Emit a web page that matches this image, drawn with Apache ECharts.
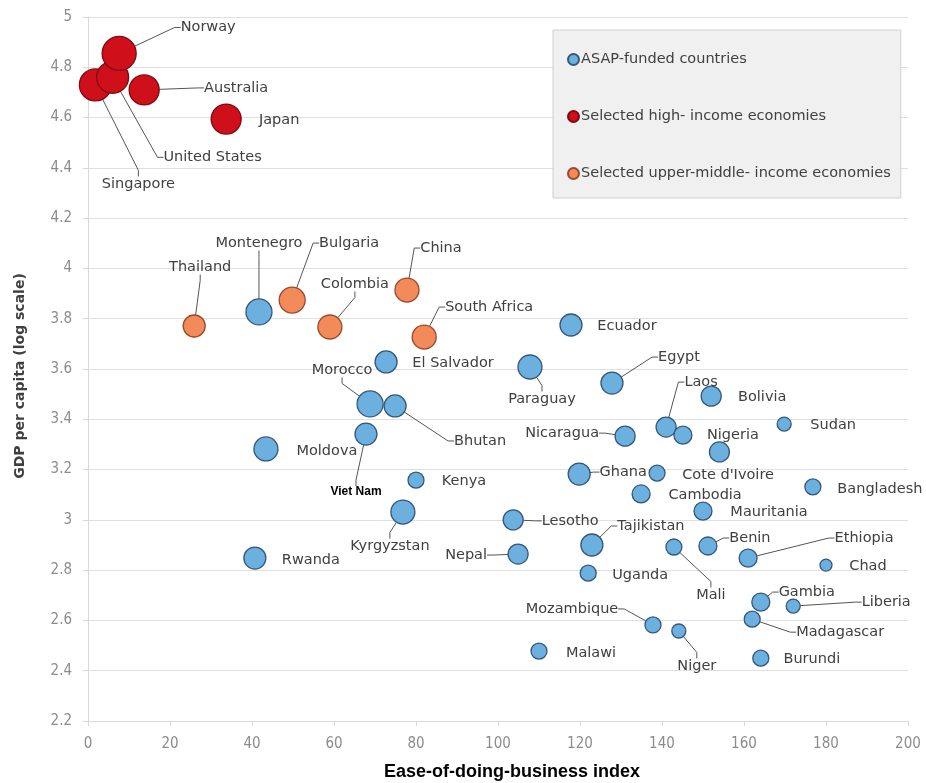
<!DOCTYPE html>
<html>
<head>
<meta charset="utf-8">
<script src="https://cdn.jsdelivr.net/npm/echarts@6/dist/echarts.min.js"></script>
<style>html,body{margin:0;padding:0;background:#fff}#c{width:926px;height:783px}</style>
</head>
<body>
<div id="c"></div>
<script>
// ---- data ----
const seriesNames = ['ASAP-funded countries', 'Selected high- income economies', 'Selected upper-middle- income economies'];

const asapCountries = ['Montenegro','El Salvador','Morocco','Bhutan','Viet Nam','Moldova','Kenya','Kyrgyzstan','Rwanda','Lesotho','Nepal','Ecuador','Paraguay','Egypt','Laos','Nigeria','','Bolivia','Sudan','Nicaragua','Ghana',"Cote d'Ivoire",'Cambodia','Bangladesh','Mauritania','Tajikistan','Mali','Benin','Ethiopia','Chad','Uganda','Gambia','Liberia','Madagascar','Mozambique','Niger','Malawi','Burundi'];
const asapEase = [41.7,72.7,68.8,74.9,67.8,43.4,80,76.8,40.7,103.7,104.9,117.8,107.8,127.8,141,145.1,154,152,169.8,131,119.8,138.8,134.9,176.8,150,122.9,142.9,151.2,161,180,122,164.1,172,162,137.8,144.1,110,164.1];
const asapGdp = [3.827,3.628,3.461,3.453,3.341,3.282,3.158,3.031,2.848,3.0,2.864,3.775,3.608,3.544,3.369,3.337,3.27,3.492,3.381,3.333,3.182,3.186,3.103,3.131,3.035,2.9,2.892,2.896,2.848,2.82,2.788,2.673,2.657,2.605,2.582,2.558,2.478,2.45];
const asapBubble = [13,11,13,11,11,12,8,12,11,10,10,11,12,11,10,9,10,10,7,10,11,8,9,8,9,11,8,9,9,6,8,9,7,8,8,7,8,8];

const highCountries = ['Singapore','United States','Norway','Australia','Japan'];
const highEase = [1.8,6,7.6,13.7,33.7];
const highGdp = [4.73,4.76,4.855,4.71,4.594];
const highBubble = [16,16,17,15,15];

const umCountries = ['Thailand','Bulgaria','Colombia','China','South Africa'];
const umEase = [25.9,49.8,59,77.8,82];
const umGdp = [3.771,3.874,3.767,3.914,3.727];
const umBubble = [11,13,12,12,12];

const xTicks = {min: 0, max: 200, interval: 20};
const yTicks = {min: 2.2, max: 5, interval: 0.2};

// ---- label layout (pixel offsets of label centre from bubble centre, leader flag) ----
const labelPlace = {
  'Norway':[89,-26,1],'United States':[100,80,1],'Singapore':[43,99,1],'Australia':[92,-2,1],'Japan':[53,1,0],
  'Thailand':[6,-59,1],'Bulgaria':[57,-57,1],'Colombia':[25,-43,1],'China':[34,-42,1],'South Africa':[65,-30,1],
  'Montenegro':[0,-69,1],'El Salvador':[67,1,0],'Morocco':[-28,-34,1],'Bhutan':[85,35,1],'Viet Nam':[-10,58,1],
  'Moldova':[61,2,0],'Kenya':[48,1,0],'Kyrgyzstan':[-13,34,1],'Rwanda':[56,2,0],'Lesotho':[57,1,1],'Nepal':[-52,1,1],
  'Ecuador':[56,1,0],'Paraguay':[12,32,1],'Egypt':[67,-26,1],'Laos':[35,-45,1],'Nigeria':[50,0,0],'':[0,0,0],
  'Bolivia':[51,1,0],'Sudan':[49,1,0],'Nicaragua':[-63,-3,1],'Ghana':[44,-2,1],"Cote d'Ivoire":[71,2,0],
  'Cambodia':[64,1,0],'Bangladesh':[67,2,0],'Mauritania':[66,1,0],'Tajikistan':[59,-19,1],'Mali':[37,48,1],
  'Benin':[42,-8,1],'Ethiopia':[116,-20,1],'Chad':[42,1,0],'Uganda':[52,2,0],'Gambia':[46,-10,1],'Liberia':[93,-4,1],
  'Madagascar':[88,13,1],'Mozambique':[-81,-16,1],'Niger':[18,35,1],'Malawi':[52,2,0],'Burundi':[51,1,0]
};

function build(names, xs, ys, sizes) {
  return names.map((n, i) => {
    const p = labelPlace[n] || [0,0,0];
    const item = {name: n, value: [xs[i], ys[i], sizes[i]], labelLine: {show: !!p[2]}};
    if (n === 'Viet Nam') item.label = {color: '#000', fontFamily: 'Liberation Sans, Arial', fontWeight: 'bold', fontSize: 12};
    return item;
  });
}

const colors = [
  {fill: '#6cb0e0', border: '#35577a'},
  {fill: '#cf0f1a', border: '#7d0a10'},
  {fill: '#f28a5a', border: '#9a4a2a'}
];
const labelFont = 'DejaVu Sans';
const tickFont = 'DejaVu Sans Condensed, DejaVu Sans';

function mkSeries(idx, names, xs, ys, sizes) {
  return {
    name: seriesNames[idx],
    type: 'scatter',
    data: build(names, xs, ys, sizes),
    symbolSize: v => v[2] * 2,
    itemStyle: {color: colors[idx].fill, borderColor: colors[idx].border, borderWidth: 1.3, opacity: 1},
    label: {
      show: true, position: 'inside', formatter: p => p.name,
      color: '#404040', fontSize: 14.5, fontFamily: labelFont, align: 'center', verticalAlign: 'middle'
    },
    labelLine: {lineStyle: {color: '#555', width: 1}, length2: 6},
    labelLayout: p => {
      const o = labelPlace[p.text] || [0,0,0];
      return {dx: o[0], dy: o[1]};
    },
    emphasis: {disabled: true}
  };
}

const chart = echarts.init(document.getElementById('c'), null, {renderer: 'canvas'});
chart.setOption({
  animation: false,
  backgroundColor: '#fff',
  grid: {left: 88, right: 18, top: 17, bottom: 62, containLabel: false, outerBoundsMode: 'none'},
  legend: {
    orient: 'vertical', left: 553, top: 30,
    padding: [22, 10, 17, 14], itemGap: 42,
    backgroundColor: '#f0f0f0', borderColor: '#cfcfcf', borderWidth: 1,
    icon: 'circle', itemWidth: 11, itemHeight: 11, itemSymbolKeepAspect: true,
    textStyle: {color: '#404040', fontSize: 14.5, fontFamily: labelFont, padding: [0,0,0,-3]},
    data: [seriesNames[0], seriesNames[1], seriesNames[2]]
  },
  xAxis: {
    type: 'value', min: xTicks.min, max: xTicks.max, interval: xTicks.interval,
    name: 'Ease-of-doing-business index', nameLocation: 'middle', nameGap: 42,
    nameTextStyle: {color: '#000', fontSize: 18, fontFamily: 'Liberation Sans Narrow, Liberation Sans, Arial', fontWeight: 'bold', padding: [0,0,0,28]},
    axisLine: {show: true, lineStyle: {color: '#d9d9d9'}},
    axisTick: {show: true, length: 5, lineStyle: {color: '#d9d9d9'}},
    axisLabel: {color: '#8c8c8c', fontSize: 15, fontFamily: tickFont, margin: 16},
    splitLine: {show: false}
  },
  yAxis: {
    type: 'value', min: yTicks.min, max: yTicks.max, interval: yTicks.interval,
    name: 'GDP per capita (log scale)', nameLocation: 'middle', nameGap: 61,
    nameTextStyle: {color: '#404040', fontSize: 14, fontFamily: labelFont, fontWeight: 'bold', padding: [0,0,0,-14]},
    axisLine: {show: true, lineStyle: {color: '#d9d9d9'}},
    axisTick: {show: true, length: 5, lineStyle: {color: '#d9d9d9'}},
    axisLabel: {color: '#8c8c8c', fontSize: 15, fontFamily: tickFont, margin: 16},
    splitLine: {show: true, lineStyle: {color: '#e0e0e0'}}
  },
  series: [
    mkSeries(0, asapCountries, asapEase, asapGdp, asapBubble),
    mkSeries(1, highCountries, highEase, highGdp, highBubble),
    mkSeries(2, umCountries, umEase, umGdp, umBubble)
  ]
});
</script>
</body>
</html>
